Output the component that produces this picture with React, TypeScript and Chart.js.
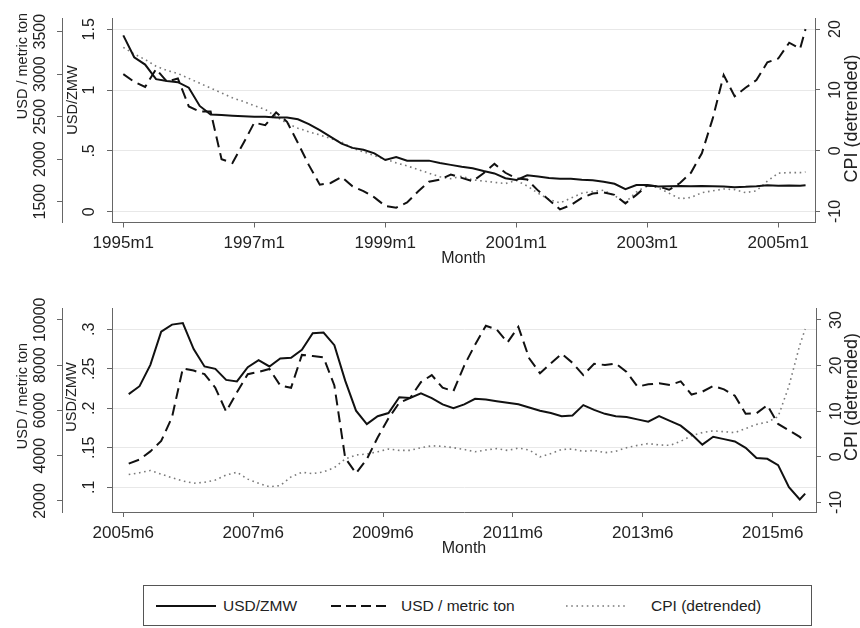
import React, { useEffect, useRef } from 'react';
import { Chart, registerables } from 'chart.js';

Chart.register(...registerables);

const FONT = "'Liberation Sans', Arial, Helvetica, sans-serif";
const TEXT = '#222';
const AXIS = '#666';
const GRID = '#e8e8e8';
const TICK_SIZE = 16;
const TICK_LEN = 5;

const SERIES_LABELS = ['USD/ZMW', 'USD / metric ton', 'CPI (detrended)'];
const X_TITLE = 'Month';

// ---------- Top panel (months since 1995m1) ----------
const TOP_MONTHS = [0, 2, 4, 6, 8, 10, 12, 14, 16, 18, 20, 22, 24, 26, 28, 30, 32, 34, 36, 38, 40, 42, 44, 46, 48, 50, 52, 54, 56, 58, 60, 62, 64, 66, 68, 70, 72, 74, 76, 78, 80, 82, 84, 86, 88, 90, 92, 94, 96, 98, 100, 102, 104, 106, 108, 110, 112, 114, 116, 118, 120, 122, 124, 125];
const TOP_USD_ZMW = [1.45, 1.27, 1.21, 1.09, 1.075, 1.065, 1.02, 0.87, 0.8, 0.795, 0.79, 0.785, 0.78, 0.78, 0.775, 0.775, 0.76, 0.72, 0.67, 0.615, 0.56, 0.525, 0.51, 0.48, 0.425, 0.45, 0.42, 0.42, 0.42, 0.4, 0.385, 0.37, 0.358, 0.335, 0.315, 0.275, 0.26, 0.3, 0.29, 0.278, 0.272, 0.27, 0.262, 0.258, 0.247, 0.23, 0.185, 0.22, 0.22, 0.208, 0.21, 0.212, 0.21, 0.212, 0.21, 0.208, 0.202, 0.205, 0.21, 0.218, 0.214, 0.215, 0.214, 0.218];
const TOP_USD_TON = [3000, 2910, 2850, 3060, 2912, 2950, 2620, 2560, 2560, 2000, 1955, 2187, 2430, 2400, 2550, 2440, 2190, 1930, 1700, 1720, 1790, 1680, 1625, 1550, 1450, 1430, 1490, 1620, 1735, 1760, 1820, 1780, 1740, 1834, 1945, 1840, 1775, 1760, 1630, 1520, 1410, 1460, 1545, 1595, 1610, 1580, 1480, 1580, 1690, 1680, 1640, 1720, 1840, 2070, 2480, 2990, 2740, 2840, 2930, 3140, 3185, 3370, 3300, 3530];
const TOP_CPI = [17.0, 15.9, 15.0, 13.9, 13.2, 12.7, 11.9, 11.1, 10.3, 9.5, 8.7, 8.1, 7.4, 6.8, 5.6, 4.5, 3.7, 3.1, 2.6, 2.0, 1.4, 0.4, -0.2, -0.8, -1.4, -2.0, -2.5, -3.1, -3.7, -4.3, -4.6, -4.2, -4.8, -5.0, -5.2, -5.4, -4.9, -5.8, -7.0, -8.0, -8.6, -7.8, -7.0, -6.7, -6.5, -7.4, -8.5, -6.8, -5.7, -6.1, -7.0, -7.9, -7.7, -6.9, -6.6, -6.3, -6.4, -6.9, -6.6, -5.0, -3.7, -3.6, -3.6, -3.5];
const TOP_X_TICKS = [0, 24, 48, 72, 96, 120];
const TOP_X_LABELS = ['1995m1', '1997m1', '1999m1', '2001m1', '2003m1', '2005m1'];
const TOP_ZMW_TICKS = [0, 0.5, 1, 1.5];
const TOP_TON_TICKS = [1500, 2000, 2500, 3000, 3500];
const TOP_CPI_TICKS = [-10, 0, 10, 20];

// ---------- Bottom panel (months since 2005m6) ----------
const BOT_MONTHS = [1, 3, 5, 7, 9, 11, 13, 15, 17, 19, 21, 23, 25, 27, 29, 31, 33, 35, 37, 39, 41, 43, 45, 47, 49, 51, 53, 55, 57, 59, 61, 63, 65, 67, 69, 71, 73, 75, 77, 79, 81, 83, 85, 87, 89, 91, 93, 95, 97, 99, 101, 103, 105, 107, 109, 111, 113, 115, 117, 119, 121, 123, 125, 126];
const BOT_USD_ZMW = [0.218, 0.228, 0.255, 0.297, 0.306, 0.308, 0.275, 0.253, 0.25, 0.236, 0.234, 0.252, 0.261, 0.253, 0.263, 0.264, 0.274, 0.295, 0.296, 0.28, 0.235, 0.197, 0.18, 0.19, 0.194, 0.214, 0.213, 0.219, 0.213, 0.205, 0.2, 0.205, 0.212, 0.211, 0.209, 0.207, 0.205, 0.201, 0.197, 0.194, 0.19, 0.191, 0.204, 0.198, 0.193, 0.19, 0.189, 0.186, 0.183, 0.19, 0.184, 0.178, 0.167, 0.154, 0.164, 0.161, 0.158, 0.15, 0.137, 0.136, 0.128, 0.1, 0.0845, 0.092];
const BOT_USD_TON = [3650, 3830, 4190, 4650, 5700, 7850, 7760, 7600, 7000, 5950, 6800, 7600, 7700, 7830, 7100, 7000, 8450, 8400, 8340, 7100, 3900, 3223, 3850, 4800, 5650, 6340, 6550, 7250, 7560, 7000, 6850, 7980, 8900, 9740, 9570, 9000, 9690, 8300, 7640, 8080, 8500, 8100, 7560, 8060, 8004, 8070, 7700, 7050, 7150, 7196, 7122, 7280, 6700, 6826, 7078, 6930, 6650, 5850, 5870, 6230, 5400, 5120, 4830, 4618];
const BOT_CPI = [-3.9, -3.5, -3.0, -3.8, -4.6, -5.3, -5.8, -5.6, -5.1, -4.0, -3.4, -4.9, -5.8, -6.6, -6.3, -4.4, -3.4, -3.7, -3.3, -2.4, -0.5, 0.4, 0.6, 1.1, 1.7, 1.4, 1.4, 2.0, 2.4, 2.3, 2.0, 1.6, 1.1, 1.5, 1.8, 1.4, 1.9, 1.5, 0.0, 0.7, 1.6, 1.7, 1.2, 1.4, 0.9, 1.2, 2.0, 2.5, 2.9, 2.6, 2.5, 3.4, 4.6, 5.3, 5.7, 5.5, 5.3, 6.2, 7.1, 7.6, 8.8, 15.5, 24.5, 28.0];
const BOT_X_TICKS = [0, 24, 48, 72, 96, 120];
const BOT_X_LABELS = ['2005m6', '2007m6', '2009m6', '2011m6', '2013m6', '2015m6'];
const BOT_ZMW_TICKS = [0.1, 0.15, 0.2, 0.25, 0.3];
const BOT_TON_TICKS = [2000, 4000, 6000, 8000, 10000];
const BOT_CPI_TICKS = [-10, 0, 10, 20, 30];

function fmtDec(v: number): string {
  if (v === 0) return '0';
  const s = String(Number(v.toFixed(3)));
  if (s.startsWith('0.')) return s.slice(1);
  if (s.startsWith('-0.')) return '-' + s.slice(2);
  return s;
}
function fmtInt(v: number): string {
  return String(Math.round(v));
}

function measureWidest(labels: string[], size: number): number {
  const ctx = document.createElement('canvas').getContext('2d');
  if (!ctx) return 0;
  ctx.font = `${size}px ${FONT}`;
  return Math.max(...labels.map((l) => ctx.measureText(l).width));
}

type YSpec = {
  position: 'left' | 'right';
  weight: number;
  min: number;
  max: number;
  ticks: number[];
  fmt: (v: number) => string;
  width: number;
  dist: number;
  grid: boolean;
};

function yAxis(o: YSpec) {
  const labels = o.ticks.map(o.fmt);
  const widest = measureWidest(labels, TICK_SIZE);
  const pad = o.dist - TICK_LEN - widest / 2;
  return {
    type: 'linear',
    position: o.position,
    weight: o.weight,
    min: o.min,
    max: o.max,
    afterBuildTicks: (s: any) => {
      s.ticks = o.ticks.map((v) => ({ value: v }));
    },
    afterFit: (s: any) => {
      s.width = o.width;
    },
    ticks: {
      autoSkip: false,
      minRotation: 90,
      maxRotation: 90,
      crossAlign: 'center',
      padding: pad,
      color: TEXT,
      font: { family: FONT, size: TICK_SIZE },
      callback: (v: any) => o.fmt(Number(v)),
    },
    grid: {
      drawOnChartArea: o.grid,
      color: GRID,
      lineWidth: 1,
      drawTicks: true,
      tickLength: TICK_LEN,
      tickColor: AXIS,
      tickWidth: 1,
    },
    border: { display: true, color: AXIS, width: 1 },
  };
}

type TitleSpec = { text: string; x: number; y: number; size: number };
function titlesPlugin(items: TitleSpec[]) {
  return {
    id: 'yAxisTitles',
    afterDraw(chart: any) {
      const ctx = chart.ctx;
      items.forEach((t) => {
        ctx.save();
        ctx.font = `${t.size}px ${FONT}`;
        ctx.fillStyle = TEXT;
        ctx.textAlign = 'center';
        ctx.textBaseline = 'middle';
        ctx.translate(t.x, t.y);
        ctx.rotate(-Math.PI / 2);
        ctx.fillText(t.text, 0, 0);
        ctx.restore();
      });
    },
  };
}

type Panel = {
  months: number[];
  zmw: number[];
  ton: number[];
  cpi: number[];
  xTicks: number[];
  xLabels: string[];
  xMin: number;
  xMax: number;
  zmwTicks: number[];
  tonTicks: number[];
  cpiTicks: number[];
  zmwRange: [number, number];
  tonRange: [number, number];
  cpiRange: [number, number];
  padTop: number;
  xHeight: number;
  titlePadBottom: number;
  rightWidth: number;
  titles: TitleSpec[];
};

function makeConfig(p: Panel): any {
  const pts = (vals: number[]) => p.months.map((m, i) => ({ x: m, y: vals[i] }));
  return {
    type: 'line',
    data: {
      datasets: [
        {
          label: SERIES_LABELS[0],
          data: pts(p.zmw),
          yAxisID: 'yZmw',
          borderColor: '#111',
          borderWidth: 2,
          pointRadius: 0,
          tension: 0,
          fill: false,
        },
        {
          label: SERIES_LABELS[1],
          data: pts(p.ton),
          yAxisID: 'yTon',
          borderColor: '#111',
          borderWidth: 2,
          borderDash: [11, 6],
          pointRadius: 0,
          tension: 0,
          fill: false,
        },
        {
          label: SERIES_LABELS[2],
          data: pts(p.cpi),
          yAxisID: 'yCpi',
          borderColor: '#7a7a7a',
          borderWidth: 1.6,
          borderDash: [1.6, 3.6],
          pointRadius: 0,
          tension: 0,
          fill: false,
        },
      ],
    },
    options: {
      animation: false,
      responsive: false,
      maintainAspectRatio: false,
      events: [],
      layout: { padding: { left: 12, right: 0, top: p.padTop, bottom: 0 } },
      plugins: { legend: { display: false }, tooltip: { enabled: false } },
      scales: {
        x: {
          type: 'linear',
          min: p.xMin,
          max: p.xMax,
          afterBuildTicks: (s: any) => {
            s.ticks = p.xTicks.map((v) => ({ value: v }));
          },
          afterFit: (s: any) => {
            s.height = p.xHeight;
          },
          ticks: {
            autoSkip: false,
            minRotation: 0,
            maxRotation: 0,
            padding: 6,
            color: TEXT,
            font: { family: FONT, size: 17 },
            callback: (v: any) => p.xLabels[p.xTicks.indexOf(Number(v))] ?? '',
          },
          grid: {
            drawOnChartArea: false,
            drawTicks: true,
            tickLength: TICK_LEN,
            tickColor: AXIS,
            tickWidth: 1,
          },
          border: { display: true, color: AXIS, width: 1 },
          title: {
            display: true,
            text: X_TITLE,
            color: TEXT,
            font: { family: FONT, size: 16 },
            padding: { top: 0, bottom: p.titlePadBottom },
          },
        },
        yTon: yAxis({
          position: 'left',
          weight: 2,
          min: p.tonRange[0],
          max: p.tonRange[1],
          ticks: p.tonTicks,
          fmt: fmtInt,
          width: 50,
          dist: 21,
          grid: false,
        }),
        yZmw: yAxis({
          position: 'left',
          weight: 1,
          min: p.zmwRange[0],
          max: p.zmwRange[1],
          ticks: p.zmwTicks,
          fmt: fmtDec,
          width: 50,
          dist: 22,
          grid: true,
        }),
        yCpi: yAxis({
          position: 'right',
          weight: 1,
          min: p.cpiRange[0],
          max: p.cpiRange[1],
          ticks: p.cpiTicks,
          fmt: fmtInt,
          width: p.rightWidth,
          dist: 21,
          grid: false,
        }),
      },
    },
    plugins: [titlesPlugin(p.titles)],
  };
}

const TOP_PANEL: Panel = {
  months: TOP_MONTHS,
  zmw: TOP_USD_ZMW,
  ton: TOP_USD_TON,
  cpi: TOP_CPI,
  xTicks: TOP_X_TICKS,
  xLabels: TOP_X_LABELS,
  xMin: -2.07,
  xMax: 126.73,
  zmwTicks: TOP_ZMW_TICKS,
  tonTicks: TOP_TON_TICKS,
  cpiTicks: TOP_CPI_TICKS,
  zmwRange: [-0.0888, 1.593],
  tonRange: [1255, 3661],
  cpiRange: [-11.81, 21.83],
  padTop: 18,
  xHeight: 47.5,
  titlePadBottom: 1.4,
  rightWidth: 45,
  titles: [
    { text: SERIES_LABELS[1], x: 22.5, y: 66, size: 14.5 },
    { text: SERIES_LABELS[0], x: 72.5, y: 100, size: 14.5 },
    { text: SERIES_LABELS[2], x: 852, y: 118.5, size: 18 },
  ],
};

const BOT_PANEL: Panel = {
  months: BOT_MONTHS,
  zmw: BOT_USD_ZMW,
  ton: BOT_USD_TON,
  cpi: BOT_CPI,
  xTicks: BOT_X_TICKS,
  xLabels: BOT_X_LABELS,
  xMin: -2.09,
  xMax: 128.0,
  zmwTicks: BOT_ZMW_TICKS,
  tonTicks: BOT_TON_TICKS,
  cpiTicks: BOT_CPI_TICKS,
  zmwRange: [0.0687, 0.327],
  tonRange: [1514, 10521],
  cpiRange: [-12.11, 32.63],
  padTop: 28,
  xHeight: 48,
  titlePadBottom: 1.9,
  rightWidth: 44,
  titles: [
    { text: SERIES_LABELS[1], x: 22.5, y: 116, size: 14.5 },
    { text: SERIES_LABELS[0], x: 71.7, y: 117, size: 14.5 },
    { text: SERIES_LABELS[2], x: 852, y: 117, size: 18 },
  ],
};

function PanelChart({ panel, top, height }: { panel: Panel; top: number; height: number }) {
  const ref = useRef<HTMLCanvasElement | null>(null);
  useEffect(() => {
    if (!ref.current) return;
    const chart = new Chart(ref.current, makeConfig(panel));
    return () => chart.destroy();
  }, [panel]);
  return (
    <canvas
      ref={ref}
      width={860}
      height={height}
      style={{ position: 'absolute', left: 0, top, width: 860, height, display: 'block' }}
    />
  );
}

function Legend() {
  const rowY = 20;
  const textStyle: React.CSSProperties = {
    position: 'absolute',
    top: 0,
    height: 40,
    lineHeight: '40px',
    fontFamily: FONT,
    fontSize: 15.5,
    color: TEXT,
    whiteSpace: 'nowrap',
  };
  return (
    <div
      style={{
        position: 'absolute',
        left: 143,
        top: 585,
        width: 669,
        height: 41,
        border: '1px solid #555',
        boxSizing: 'border-box',
        background: '#fff',
      }}
    >
      <svg width={667} height={39} style={{ position: 'absolute', left: 0, top: 0 }}>
        <line x1={12} y1={rowY} x2={72} y2={rowY} stroke="#111" strokeWidth={2} />
        <line x1={187} y1={rowY} x2={247} y2={rowY} stroke="#111" strokeWidth={2} strokeDasharray="10 5" />
        <line x1={422} y1={rowY} x2={482} y2={rowY} stroke="#7a7a7a" strokeWidth={1.6} strokeDasharray="1.6 3.6" />
      </svg>
      <span style={{ ...textStyle, left: 79 }}>{SERIES_LABELS[0]}</span>
      <span style={{ ...textStyle, left: 257 }}>{SERIES_LABELS[1]}</span>
      <span style={{ ...textStyle, left: 507 }}>{SERIES_LABELS[2]}</span>
    </div>
  );
}

export default function App() {
  return (
    <div style={{ position: 'absolute', left: 0, top: 0, width: 860, height: 628, background: '#fff', overflow: 'hidden' }}>
      <PanelChart panel={TOP_PANEL} top={0} height={270} />
      <PanelChart panel={BOT_PANEL} top={280} height={280} />
      <Legend />
    </div>
  );
}
